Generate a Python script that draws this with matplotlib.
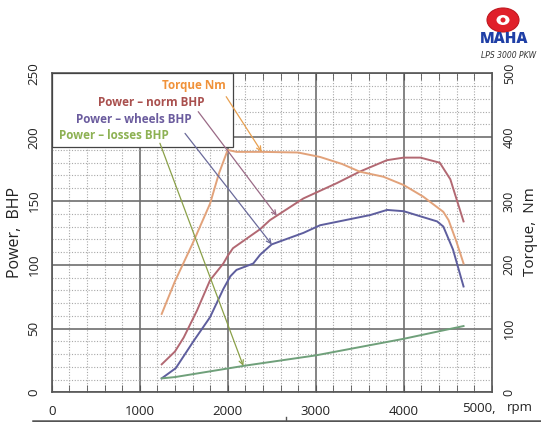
# Dyno chart: power (BHP) and torque (Nm) vs engine speed
import numpy as np
import matplotlib
matplotlib.use('Agg')
import matplotlib.pyplot as plt
from matplotlib.patches import Ellipse, Rectangle
from matplotlib.lines import Line2D

# ---- data ----
rpm_torque = [1250, 1400, 1600, 1800, 1900, 2000, 2100, 2400, 2800, 3050,
              3300, 3500, 3770, 4000, 4220, 4450, 4510, 4600, 4680]
torque_nm = [123, 174, 233, 296, 343, 380, 377, 377, 376, 369,
             358, 346, 338, 325, 307, 283, 270, 236, 202]

rpm_norm = [1250, 1400, 1500, 1650, 1800, 1950, 2000, 2060, 2370, 2480,
            2860, 3240, 3500, 3810, 4000, 4190, 4410, 4530, 4680]
power_norm = [22, 32, 43, 64, 88, 101, 107, 113, 128, 135,
              152, 164, 173, 182, 184, 184, 180, 167, 134]

rpm_wheels = [1250, 1410, 1610, 1800, 1950, 2030, 2100, 2290, 2370, 2500,
              2860, 3050, 3620, 3810, 4000, 4380, 4450, 4560, 4680]
power_wheels = [11, 19, 40, 59, 81, 91, 96, 101, 108, 116,
                125, 131, 139, 143, 142, 134, 130, 112, 83]

rpm_losses = [1250, 1400, 2200, 3000, 4000, 4680]
power_losses = [11, 12, 21, 29, 42, 52]

x_ticks = [0, 1000, 2000, 3000, 4000]
x_labels = ['0', '1000', '2000', '3000', '4000']
power_ticks = [0, 50, 100, 150, 200, 250]
torque_ticks = [0, 100, 200, 300, 400, 500]

labels = ['Torque Nm', 'Power – norm BHP', 'Power – wheels BHP', 'Power – losses BHP']

W, H = 541, 422
FONT = 'Open Sans'

fig = plt.figure(figsize=(W / 100, H / 100), dpi=100)
fig.set_facecolor('white')
ax = fig.add_axes([51.7 / W, 1 - 392.4 / H, 440 / W, 319 / H])

ax.set_xlim(0, 5000)
ax.set_ylim(0, 250)
ax.set_xticks(x_ticks)
ax.set_xticks(np.arange(0, 5001, 200), minor=True)
ax.set_xticklabels(x_labels, fontfamily=FONT, fontsize=9.5, color='#222')
ax.set_yticks(power_ticks)
ax.set_yticks(np.arange(0, 251, 10), minor=True)
ax.set_yticklabels([str(t) for t in power_ticks], rotation=90, va='center',
                   fontfamily=FONT, fontsize=9.5, color='#222')
ax.set_axisbelow(True)
ax.grid(which='major', color='#6e6e6e', lw=1.2)
ax.grid(which='minor', color='#a8a8a8', lw=0.8, ls=(0, (1, 1.5)))
ax.tick_params(axis='x', which='both', direction='in', top=True,
               length=5, color='#555', pad=9)
ax.tick_params(axis='y', which='both', length=0, pad=8)
for s in ax.spines.values():
    s.set_color('#555')
    s.set_linewidth(1.2)

# power curves
ax.plot(rpm_norm, power_norm, color='#b26872', lw=1.4, zorder=4)
ax.plot(rpm_wheels, power_wheels, color='#5e5e9e', lw=1.4, zorder=4)
ax.plot(rpm_losses, power_losses, color='#6fa07a', lw=1.4, zorder=4)

# torque on the right axis
ax2 = ax.twinx()
ax2.set_ylim(0, 500)
ax2.set_yticks(torque_ticks)
ax2.set_yticklabels([str(t) for t in torque_ticks], rotation=90, va='center',
                    fontfamily=FONT, fontsize=9, color='#222')
ax2.tick_params(axis='y', length=0, pad=8)
for s in ax2.spines.values():
    s.set_visible(False)
ax2.plot(rpm_torque, torque_nm, color='#e2a27a', lw=1.4, zorder=2)

# white box holding the curve names
ax2.add_patch(Rectangle((0, 0.77), 0.411, 0.23, transform=ax2.transAxes,
                        facecolor='white', edgecolor='#444', lw=0.9, zorder=3))

text_pos = [(0.3966, 0.9636), (0.348, 0.909), (0.318, 0.856), (0.265, 0.806)]
text_col = ['#f0923a', '#a9504e', '#6b5c9e', '#8db153']
arrow_col = ['#e8a050', '#9a6a86', '#6a6a9a', '#8aa048']
arrow_from = [(0.3966, 0.927), (0.333, 0.880), (0.303, 0.812), (0.246, 0.781)]
arrow_rpm = [2386, 2557, 2500, 2177]
curves = [(rpm_torque, torque_nm, ax2), (rpm_norm, power_norm, ax),
          (rpm_wheels, power_wheels, ax), (rpm_losses, power_losses, ax)]

for i in range(4):
    ax2.text(text_pos[i][0], text_pos[i][1], labels[i], transform=ax2.transAxes,
             ha='right', va='center', color=text_col[i], fontweight='bold',
             fontfamily=FONT, fontsize=8.4, zorder=6)
    xs, ys, a = curves[i]
    r = arrow_rpm[i]
    ax2.annotate('', xy=(r, np.interp(r, xs, ys)), xycoords=a.transData,
                 xytext=arrow_from[i], textcoords='axes fraction',
                 arrowprops=dict(arrowstyle='->', color=arrow_col[i], lw=0.9,
                                 shrinkA=0, shrinkB=0, mutation_scale=8),
                 zorder=5)

# axis titles
fig.text(15 / W, 1 - 233 / H, 'Power,  BHP', rotation=90, ha='center', va='center',
         fontfamily=FONT, fontsize=11.5, color='#222')
fig.text(530 / W, 1 - 232 / H, 'Torque,  Nm', rotation=90, ha='center', va='center',
         fontfamily=FONT, fontsize=11, color='#222')
fig.text(461.7 / W, 1 - 408 / H, '5000,', ha='left', va='center',
         fontfamily=FONT, fontsize=9.5, color='#222')
fig.text(520 / W, 1 - 408 / H, 'rpm', ha='center', va='center',
         fontfamily=FONT, fontsize=9.5, color='#222')

# line under the chart
fig.add_artist(Line2D([33 / W, 1], [1 - 421 / H] * 2, transform=fig.transFigure,
                      color='#555', lw=1.8))
fig.add_artist(Line2D([286 / W] * 2, [1 - 421 / H, 1 - 417 / H],
                      transform=fig.transFigure, color='#555', lw=1))

# logo
fig.add_artist(Ellipse((503 / W, 1 - 20 / H), 32 / W, 24 / H,
                       transform=fig.transFigure, facecolor='#e0202a',
                       edgecolor='#c01820', lw=0.8))
fig.add_artist(Ellipse((503 / W, 1 - 20 / H), 13 / W, 10 / H,
                       transform=fig.transFigure, facecolor='white', lw=0))
fig.add_artist(Ellipse((503 / W, 1 - 20 / H), 5 / W, 5 / H,
                       transform=fig.transFigure, facecolor='#e0202a', lw=0))
fig.text(504 / W, 1 - 39 / H, 'MAHA', ha='center', va='center', color='#1f3fa6',
         fontweight='heavy', fontfamily=FONT, fontsize=11)
fig.text(509 / W, 1 - 56 / H, 'LPS 3000 PKW', ha='center', va='center',
         color='#333', fontstyle='italic', fontfamily='DejaVu Sans', fontsize=5.5)

fig.savefig('out.png', dpi=100)
